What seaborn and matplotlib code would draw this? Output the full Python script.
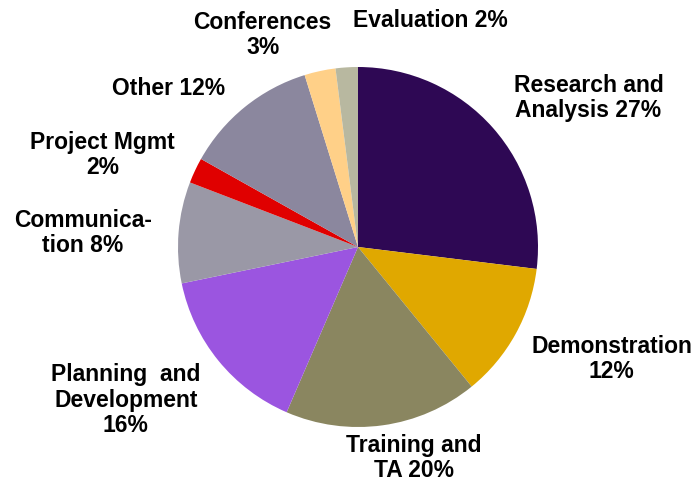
import numpy as np
import matplotlib
matplotlib.use("Agg")
import matplotlib.pyplot as plt
import seaborn as sns

# slice shares as measured from the wedge angles (clockwise from 12 o'clock)
categories = ["Research and Analysis", "Demonstration", "Training and TA",
              "Planning and Development", "Communication", "Project Mgmt",
              "Other", "Conferences", "Evaluation"]
shares = [27.0, 12.2, 17.4, 15.3, 9.1, 2.3, 12.1, 2.8, 2.0]
label_texts = ["Research and\nAnalysis 27%", "Demonstration\n12%", "Training and\nTA 20%",
               "Planning  and\nDevelopment\n16%", "Communica-\ntion 8%", "Project Mgmt\n2%",
               "Other 12%", "Conferences\n3%", "Evaluation 2%"]
colors = ["#2E0854", "#E0A800", "#8A8660", "#9B55E0", "#9A98A6",
          "#E00000", "#8B879E", "#FFD088", "#B8B8A0"]

# label centres in units of the pie radius
label_x = [1.28, 1.41, 0.31, -1.29, -1.53, -1.42, -1.05, -0.53, 0.40]
label_y = [0.83, -0.62, -1.17, -0.85, 0.08, 0.51, 0.88, 1.18, 1.26]

sns.set_theme(style="white")
plt.rcParams["font.family"] = ["Liberation Sans", "DejaVu Sans"]

fig = plt.figure(figsize=(6.98, 4.86), dpi=100)
ax = fig.add_axes([0, 0, 1, 1])
ax.pie(shares, colors=colors, startangle=90, counterclock=False,
       radius=1.0, center=(0, 0), wedgeprops=dict(linewidth=0))

for txt, lx, ly in zip(label_texts, label_x, label_y):
    ax.text(lx, ly, txt, ha="center", va="center", fontsize=16.5,
            fontweight="bold", color="black", linespacing=1.12,
            multialignment="center")

ax.set_xlim(-358 / 180, (698 - 358) / 180)
ax.set_ylim(-(486 - 247) / 180, 247 / 180)
ax.set_aspect("auto")
ax.axis("off")

fig.savefig("out.png", dpi=100)
